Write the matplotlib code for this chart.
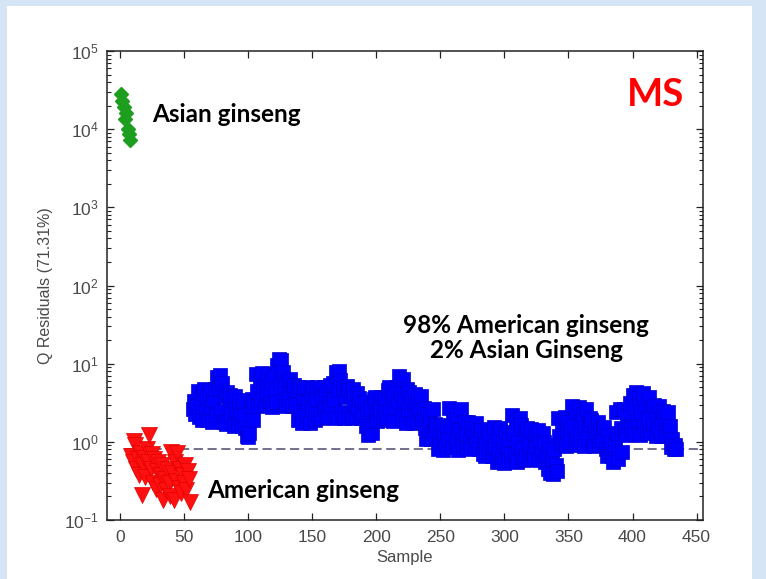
import numpy as np
import matplotlib
matplotlib.use("Agg")
import matplotlib.pyplot as plt
from matplotlib.patches import Rectangle
from matplotlib.ticker import LogLocator, FixedLocator, NullFormatter

plt.rcParams['font.family'] = ['Liberation Sans', 'DejaVu Sans']
plt.rcParams['mathtext.fontset'] = 'custom'
plt.rcParams['mathtext.rm'] = 'Liberation Sans'

# Q residuals per sample
asian = [28000, 23000, 19000, 13500, 16000, 10000, 8700, 7300]
asian_start = 1

american = [0.66, 0.55, 1.03, 0.9, 0.45, 0.6, 0.38, 0.72, 0.21, 0.5,
            0.62, 0.35, 0.8, 0.55, 1.23, 0.45, 0.7, 0.3, 0.6, 0.25,
            0.42, 0.55, 0.28, 0.38, 0.5, 0.18, 0.33, 0.24, 0.45, 0.3,
            0.2, 0.74, 0.4, 0.18, 0.55, 0.32, 0.72, 0.26, 0.45, 0.22,
            0.38, 0.3, 0.5, 0.24, 0.42, 0.33, 0.17]
american_start = 9

mixture = [
    2.6, 3.3, 2.3, 2.9,
    4.5, 2.1, 3.6, 1.9, 4.2,
    4.8, 2.4, 3.9, 1.9, 4.6, 2.8, 1.8, 3.4, 4.7, 2.2,
    6.8, 4.9, 7.1, 2.5, 5.6, 1.8, 3.9, 1.7, 4.4, 2.9,
    4.0, 2.3, 3.6, 1.6, 3.9, 2.6, 1.7, 3.3, 2.1, 1.6,
    3.4, 2.2, 1.5, 1.2, 1.17, 1.3, 2.9, 3.5, 1.9, 3.2,
    7.3, 4.5, 2.9, 6.1, 3.4, 7.5, 5.2, 3.0, 6.6, 4.0,
    7.4, 3.1, 5.8, 2.8, 6.9, 4.4, 3.2, 9.5, 11.4, 6.0,
    11.2, 7.8, 3.3, 5.4, 2.9, 6.2, 3.6, 6.3, 2.9, 4.8,
    5.4, 3.0, 4.6, 1.9, 5.1, 2.4, 1.75, 3.7, 4.9, 2.2,
    5.0, 3.1, 1.75, 4.2, 2.6, 4.9, 1.9, 3.5, 5.1, 2.3,
    4.8, 2.0, 3.7, 5.1, 2.6, 4.1, 2.1, 3.2, 5.4, 2.8,
    5.6, 3.4, 2.0, 7.9, 4.6, 8.0, 6.2, 2.4, 4.9, 2.0, 3.7, 5.2,
    4.6, 2.3, 3.9, 2.0, 4.7, 3.1, 2.1, 4.2, 2.6, 3.6, 2.0, 3.2, 2.4,
    3.2, 1.6, 2.6, 1.21, 1.5, 2.8, 1.3, 3.5,
    3.8, 2.2, 1.85, 3.1, 2.5, 3.7, 1.9, 2.8, 3.6, 2.0, 4.6,
    5.0, 2.4, 3.9, 1.85, 4.4, 2.7, 5.1, 3.3,
    6.9, 4.2, 2.0, 6.3, 3.5, 1.75, 4.8, 2.6,
    4.4, 2.2, 3.6, 1.75, 4.1, 2.9, 1.8, 3.2, 2.4, 3.9, 1.9,
    2.7, 1.5, 1.08, 2.3, 1.3, 1.9, 1.1, 2.6, 1.4, 1.7,
    1.6, 0.8, 1.2, 0.95, 1.65, 0.78, 1.3, 0.9, 1.5, 1.1,
    2.7, 1.6, 0.85, 2.5, 1.9, 1.0, 2.2, 0.78, 1.4, 2.6, 1.1, 0.9, 1.8, 1.25, 0.85,
    1.8, 1.0, 0.82, 1.5, 1.2, 0.9, 1.75, 1.05, 0.8, 1.4,
    1.4, 0.7, 1.1, 0.66, 0.95, 1.45, 0.75, 1.2, 0.65, 0.85,
    1.55, 0.9, 0.55, 1.2, 0.7, 1.5, 0.6, 1.0, 0.53, 1.35, 0.8, 0.58, 1.1, 0.7,
    2.2, 1.3, 0.6, 1.8, 0.55, 1.0, 2.0,
    1.65, 0.8, 0.58, 1.3, 0.65, 1.5, 0.9, 0.6,
    1.45, 0.7, 0.6, 1.2, 0.85, 1.4, 0.58, 1.0, 0.75, 1.3,
    1.0, 0.55, 0.7, 0.45, 0.9, 0.4, 0.6, 0.39, 0.8, 0.5, 0.42,
    2.0, 1.2, 0.9, 1.7, 1.0, 2.1, 0.88, 1.4, 1.8, 1.0, 1.5,
    2.9, 1.6, 0.9, 2.5, 1.2, 2.8, 1.0, 1.9, 2.3, 0.88, 1.5, 2.6, 1.1, 1.7, 2.0,
    1.9, 1.0, 0.88, 1.6, 1.2, 1.8, 0.9, 1.4, 1.05, 1.5,
    1.55, 0.8, 0.65, 1.2, 0.7, 1.0, 0.66,
    0.56, 0.9, 2.4, 1.3, 0.6, 2.6, 1.5, 0.75,
    2.6, 1.4, 1.21, 2.2, 1.6,
    3.1, 1.5, 4.0, 1.25, 2.7, 4.3, 1.9, 3.6, 1.22, 2.4, 4.2, 1.6, 3.0, 1.3, 2.1, 3.8, 1.4, 2.8, 1.7,
    3.0, 1.2, 2.3, 1.5, 2.9, 1.18, 1.9, 2.5, 1.3, 2.0, 1.2, 2.4,
    1.6, 0.85, 1.1, 0.82, 0.9, 0.8,
]
mixture_start = 57

q_limit = 0.81
x_ticks = [0, 50, 100, 150, 200, 250, 300, 350, 400, 450]

W, H = 766, 579
fig = plt.figure(figsize=(W / 100, H / 100), dpi=100)
fig.patch.set_facecolor('#d5e5f6')
fig.add_artist(Rectangle((7 / W, -0.02), 745 / W, 573 / H + 0.02, transform=fig.transFigure,
                         facecolor='white', edgecolor='none', zorder=-10))

ax = fig.add_axes([107 / W, 59 / H, 596 / W, 469 / H])
ax.set_facecolor('white')

x_asian = np.arange(asian_start, asian_start + len(asian))
x_american = np.arange(american_start, american_start + len(american))
x_mixture = np.arange(mixture_start, mixture_start + len(mixture))

ax.hlines(q_limit, 4, 455, colors='#4a4a70', linestyles=(0, (6, 3)), linewidth=1.1, zorder=1)
ax.plot(x_asian, asian, 'D', color='#1e9e1e', ms=7.2, mec='#1e9e1e', zorder=3)
ax.plot(x_american, american, 'v', color='#ff1010', ms=11, mec='#e00000', mew=0.5, zorder=3)
ax.plot(x_mixture, mixture, 's', color='#0000ff', ms=9.5, mec='#0000d0', mew=0.5, zorder=3)

ax.set_yscale('log')
ax.set_xlim(-10, 455)
ax.set_ylim(1e-1, 1e5)
ax.xaxis.set_major_locator(FixedLocator(x_ticks))
ax.yaxis.set_major_locator(LogLocator(base=10, numticks=10))
ax.yaxis.set_minor_locator(LogLocator(base=10, subs=np.arange(2, 10), numticks=20))
ax.yaxis.set_minor_formatter(NullFormatter())

ax.tick_params(which='both', direction='in', top=True, right=True,
               colors='#222222', labelcolor='#4a4a4a', labelsize=12.5)
ax.tick_params(which='major', length=5, width=0.9)
ax.tick_params(which='minor', length=3, width=0.8)
ax.tick_params(axis='x', pad=7)
ax.tick_params(axis='y', pad=6)
for sp in ax.spines.values():
    sp.set_linewidth(1.1)
    sp.set_color('#222222')

ax.set_xlabel('Sample', fontsize=12, color='#4a4a4a', labelpad=4)
ax.set_ylabel('Q Residuals (71.31%)', fontsize=11.5, color='#4a4a4a', labelpad=8)

lab = dict(family=['Lato', 'DejaVu Sans'], fontweight='bold', fontsize=17.5,
           color='black', va='baseline', ha='left', transform=ax.transAxes)
ax.text(0.0755, 0.8486, 'Asian ginseng', **lab)
ax.text(0.1678, 0.0469, 'American ginseng', **lab)
ax.text(0.4966, 0.3987, '98% American ginseng', **lab)
ax.text(0.542, 0.3454, '2% Asian Ginseng', **lab)
ax.text(0.8725, 0.8827, 'MS', family=['Lato', 'DejaVu Sans'], fontweight='bold',
        fontsize=27.5, color='#ff0000', va='baseline', ha='left', transform=ax.transAxes)

fig.savefig('out.png', dpi=100, facecolor=fig.get_facecolor())
